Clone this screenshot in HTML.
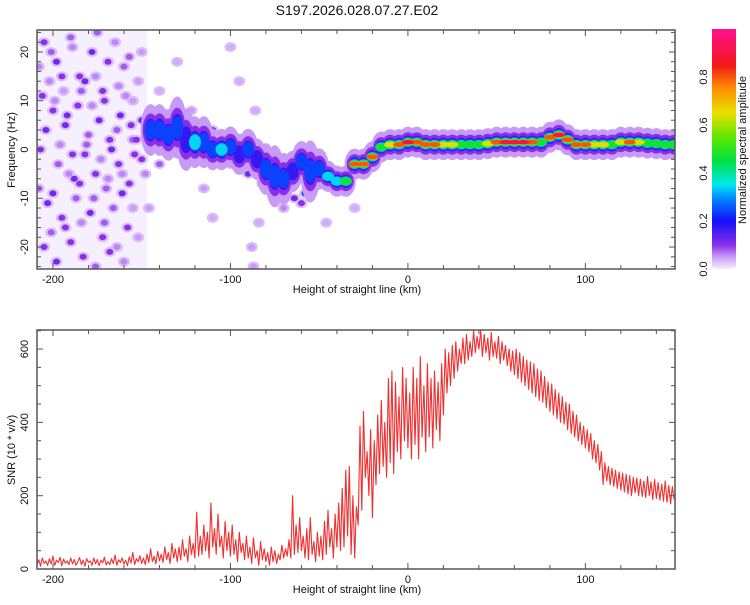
<!DOCTYPE html>
<html><head><meta charset="utf-8">
<style>
html,body{margin:0;padding:0;background:#fff;}
svg text{font-family:"Liberation Sans",sans-serif;fill:#111;}
</style></head>
<body>
<svg id="chart" width="750" height="600" viewBox="0 0 750 600" xmlns="http://www.w3.org/2000/svg">
<defs>
<linearGradient id="cbgrad" x1="0" y1="1" x2="0" y2="0">
<stop offset="0" stop-color="#f6eefe"/><stop offset="0.05" stop-color="#c89cf6"/><stop offset="0.1" stop-color="#8a2ee8"/>
<stop offset="0.2" stop-color="#1010f8"/><stop offset="0.3" stop-color="#0090ff"/><stop offset="0.35" stop-color="#00e8f0"/>
<stop offset="0.45" stop-color="#00e040"/><stop offset="0.55" stop-color="#60e800"/><stop offset="0.65" stop-color="#e8e000"/>
<stop offset="0.75" stop-color="#ff9000"/><stop offset="0.85" stop-color="#f01818"/><stop offset="1" stop-color="#ff1090"/>
</linearGradient>
<clipPath id="clipTop"><rect x="37" y="30" width="638" height="239"/></clipPath>
<clipPath id="clipBot"><rect x="37" y="330" width="638" height="239"/></clipPath>
</defs>
<text x="357" y="15" font-size="14" text-anchor="middle">S197.2026.028.07.27.E02</text>
<g id="heat" clip-path="url(#clipTop)"></g>
<g id="snr" clip-path="url(#clipBot)"></g>
<g id="axes"></g>
<rect x="712" y="29" width="24" height="240" fill="url(#cbgrad)"/>
<g id="cbticks"></g>
<text transform="translate(746,150) rotate(-90)" font-size="11" text-anchor="middle">Normalized spectral amplitude</text>
</svg>
<script>
const snrStart = -209;
const snrValues = [
12,25,8,30,15,22,10,28,14,35,
10,24,18,32,9,27,16,22,12,30,
14,26,10,20,31,12,24,8,28,18,
22,10,30,14,26,9,24,17,32,11,
20,12,28,15,38,10,25,18,30,13,
24,9,33,16,45,12,28,20,36,15,
30,12,40,18,55,20,35,14,48,22,
40,18,60,25,45,15,70,30,55,20,
60,25,80,35,55,20,90,40,70,30,
155,35,90,40,120,50,100,30,180,60,
110,40,150,60,90,30,130,50,100,35,
120,40,80,20,100,45,70,25,90,30,
60,15,85,30,50,10,75,25,55,20,
45,10,60,20,50,15,40,25,65,30,
55,35,80,30,200,40,120,45,140,50,
90,30,110,25,140,40,75,20,100,35,
90,25,130,40,160,60,110,30,150,60,
180,50,220,60,270,90,280,40,200,30,
170,120,390,160,430,250,320,200,380,140,
350,230,420,260,460,280,400,250,520,290,
540,260,510,320,470,300,550,350,520,330,
480,300,550,340,520,300,580,360,500,320,
560,360,520,330,540,380,510,350,560,420,
600,480,590,500,610,520,620,540,600,560,
630,560,640,570,620,580,650,590,635,600,
650,580,640,590,630,570,645,580,620,575,
635,560,620,570,610,555,600,540,595,530,
600,520,590,510,580,500,570,490,565,480,
560,470,545,460,540,455,525,440,510,430,
505,420,490,410,480,400,470,395,455,380,
450,370,430,360,420,350,400,340,390,330,
380,320,370,300,350,290,340,270,320,230,
290,240,280,230,275,225,270,220,265,215,
262,210,258,205,255,200,250,208,248,200,
245,198,240,195,252,200,238,190,244,192,
236,188,232,185,240,182,228,178,225,190
];
const ridgeX = [-145,-140,-135,-130,-125,-120,-115,-110,-105,-100,-95,-90,-85,-80,-75,-70,-65,-60,-55,-50,-45,-40,-35,-30,-25,-20,-15,-10,-5,0,5,10,15,20,25,30,35,40,45,50,55,60,65,70,75,80,85,90,95,100,105,110,115,120,125,130,135,140,145,150];
const ridgeF = [4,4,3,4.5,2,1.5,1.5,0,0,0.5,-1,0,-2,-4,-5.5,-6,-4.5,-2.5,-4.5,-4,-5.5,-6.5,-6.5,-3,-3,-1.5,0.5,1,1,1.5,1.5,1,1,1,1,1,1,1,1.2,1.5,1.5,1.5,1.5,1.5,1.5,2.5,3,2,1,1,1,1,1,1.5,1.5,1.5,1.3,1.2,1,1];
const ridgeA = [0.28,0.22,0.3,0.3,0.2,0.32,0.3,0.3,0.35,0.3,0.2,0.25,0.15,0.25,0.25,0.3,0.2,0.3,0.25,0.25,0.35,0.4,0.5,0.8,0.85,0.8,0.6,0.7,0.8,0.9,0.85,0.85,0.8,0.75,0.7,0.6,0.55,0.6,0.75,0.85,0.9,0.92,0.9,0.8,0.6,0.85,0.9,0.85,0.8,0.85,0.75,0.7,0.6,0.7,0.8,0.75,0.6,0.55,0.55,0.5];
const ridgeW = [5,5,5,6,6,5,5,4,4,4,4,4,4,5,6,5,4,4,6,4,3,3,3,3,3,3,3,3,3,3,3,3,3,3,3,3,3,3,3,3,3,3,3,3,3,3,3,3,3,3,3,3,3,3,3,3,3,3,3,3];
const noiseX = [-205,-198,-190,-185,-178,-172,-165,-160,-155,-200,-193,-186,-180,-174,-168,-162,-156,-150,-207,-197,-188,-182,-176,-170,-163,-157,-203,-195,-187,-179,-172,-166,-158,-205,-198,-190,-183,-176,-168,-160,-152,-202,-194,-176,-150,-148,-146,-140,-130,-122,-115,-110,-100,-95,-88,-87,-86,-84,-70,-64,-60,-58,-75,-72,-46,-30,-150,-155,-140,-135,-125,-118,-110,-100,-95,-90,-82,-78,
-208,-201,-195,-189,-182,-175,-169,-163,-157,-152,-206,-199,-192,-184,-178,-171,-164,-159,-153,-204,-196,-189,-181,-173,-167,-161,-154,-208,-200,-191,-185,-177,-169,-161,-155,-201,-193,-184,-171,-164];
const noiseF = [22,18,23,15,20,12,22,17,10,8,5,9,3,6,2,7,5,6,0,-3,-6,-1,-5,-8,-3,-7,-11,-14,-10,-13,-18,-12,-16,-20,-23,-19,-22,-24,-21,-23,-18,14,12,15,20,-5,-12,12,18,8,-8,-14,21,14,-20,-24,8,-15,-12,-10,-11,-9,-9,-7,-15,-12,-2,2,-3,-1,4,-2,4,-3,2,-5,-7,-2,
17,20,15,21,14,24,18,13,19,14,11,10,7,12,9,10,4,11,2,4,1,-1,1,-2,0,-5,-1,-8,-9,-5,-7,-10,-6,-9,-12,-17,-16,-15,-15,-20];
const noiseA = [0.1,0.12,0.08,0.1,0.12,0.1,0.06,0.08,0.05,0.1,0.12,0.1,0.08,0.12,0.1,0.12,0.1,0.12,0.1,0.08,0.12,0.1,0.1,0.08,0.1,0.1,0.12,0.1,0.08,0.12,0.1,0.08,0.1,0.1,0.12,0.1,0.1,0.08,0.1,0.06,0.05,0.06,0.05,0.06,0.05,0.06,0.05,0.04,0.04,0.05,0.05,0.04,0.04,0.04,0.05,0.05,0.04,0.04,0.06,0.12,0.1,0.25,0.12,0.2,0.04,0.04,0.1,0.08,0.08,0.12,0.12,0.1,0.1,0.1,0.1,0.12,0.1,0.08,
0.06,0.08,0.1,0.06,0.12,0.08,0.1,0.06,0.08,0.05,0.1,0.06,0.12,0.08,0.06,0.1,0.08,0.06,0.1,0.12,0.06,0.1,0.08,0.06,0.12,0.06,0.1,0.08,0.12,0.06,0.1,0.08,0.06,0.12,0.05,0.08,0.1,0.06,0.08,0.06];
const xTicks = [-200,-100,0,100];
const fTicks = [-20,-10,0,10,20];
const snrTicks = [0,200,400,600];
const cbTicks = [0.0,0.2,0.4,0.6,0.8];

const NS='http://www.w3.org/2000/svg';
const X0=37,X1=675,KMIN=-209,KMAX=150.5;
const xs = k => X0+(k-KMIN)*(X1-X0)/(KMAX-KMIN);
const HZ = 239/49;
const yf = f => 149.5 - f*HZ;
const ys = v => 569 - v*(239/652);
const yc = a => 269 - a*240;
function mk(tag, attrs, parent){const e=document.createElementNS(NS,tag);for(const k in attrs)e.setAttribute(k,attrs[k]);parent.appendChild(e);return e;}
const stops=[[0,[246,238,254]],[0.05,[200,156,246]],[0.1,[138,46,232]],[0.2,[16,16,248]],[0.3,[0,144,255]],[0.35,[0,232,240]],[0.45,[0,224,64]],[0.55,[96,232,0]],[0.65,[232,224,0]],[0.75,[255,144,0]],[0.85,[240,24,24]],[1,[255,16,144]]];
function cmap(a){for(let i=1;i<stops.length;i++){if(a<=stops[i][0]){const t=(a-stops[i-1][0])/(stops[i][0]-stops[i-1][0]);const c=stops[i-1][1].map((v,j)=>Math.round(v+(stops[i][1][j]-v)*t));return 'rgb('+c.join(',')+')';}}return 'rgb(255,16,144)';}

// heatmap
const heat=document.getElementById('heat');
const bg=mk('rect',{x:xs(-209),y:30,width:xs(-147)-xs(-209),height:239,fill:'#f6effd'},heat);


for(let i=0;i<noiseX.length;i++){
  const e1=mk('ellipse',{cx:xs(noiseX[i]),cy:yf(noiseF[i]),rx:6,ry:5,fill:cmap(0.03)},heat);
  
  
}
for(let i=0;i<noiseX.length;i++){
  const e2=mk('ellipse',{cx:xs(noiseX[i]),cy:yf(noiseF[i]),rx:3.5,ry:3,fill:cmap(noiseA[i])},heat);
  
  
}
const levels=[0.03,0.08,0.15,0.22,0.32,0.45,0.62,0.78,0.88];
const ryFactor=[1.25,0.8,0.55,0.45,0.38,0.32,0.24,0.2,0.15];
levels.forEach((t,li)=>{
  for(let i=0;i<ridgeX.length;i++){
    const a=ridgeA[i]; if(a<t) continue;
    const ry = Math.max(ridgeW[i]*ryFactor[li]*HZ*0.85, 2.2);
    const rx = li===0 ? 10 : (li===1 ? 8 : 6);
    const el=mk('ellipse',{cx:xs(ridgeX[i]),cy:yf(ridgeF[i]),rx:rx,ry:ry,fill:cmap(t+0.02)},heat);
    
    
  }
});

// SNR line
const snr=document.getElementById('snr');
let d='';
snrValues.forEach((v,i)=>{d+=(i?'L':'M')+xs(snrStart+i).toFixed(1)+' '+ys(v).toFixed(1);});
const line=mk('path',{d:d,fill:'none',stroke:'#f03030','stroke-width':1.1,'stroke-linejoin':'round'},snr);



// axes
const ax=document.getElementById('axes');
function frame(y0,y1,name){
  const r=mk('rect',{x:X0,y:y0,width:X1-X0,height:y1-y0,fill:'none',stroke:'#555','stroke-width':1.5},ax);
  
  
  for(let k=-200;k<=150;k+=20){
    const L=(k%100===0)?6:4;
    mk('line',{x1:xs(k),x2:xs(k),y1:y1,y2:y1-L,stroke:'#555'},ax);
    mk('line',{x1:xs(k),x2:xs(k),y1:y0,y2:y0+L,stroke:'#555'},ax);
  }
  xTicks.forEach(k=>{
    const t=mk('text',{x:xs(k),y:y1+14,'font-size':11,'text-anchor':'middle'},ax);t.textContent=k;
    
    
  });
  const tt=mk('text',{x:357,y:y1+24,'font-size':11,'text-anchor':'middle'},ax);tt.textContent='Height of straight line (km)';
  
  
}
frame(30,269,'top-plot-frame');
frame(330,569,'bottom-plot-frame');
for(let f=-24;f<=24;f+=2){
  const L=(f%10===0)?6:4;
  mk('line',{x1:X0,x2:X0+L,y1:yf(f),y2:yf(f),stroke:'#555'},ax);
  mk('line',{x1:X1,x2:X1-L,y1:yf(f),y2:yf(f),stroke:'#555'},ax);
}
fTicks.forEach(f=>{
  const t=mk('text',{transform:'translate(28,'+yf(f)+') rotate(-90)','font-size':11,'text-anchor':'middle'},ax);t.textContent=f;
  
  
});
const yt=mk('text',{transform:'translate(15,150) rotate(-90)','font-size':11,'text-anchor':'middle'},ax);yt.textContent='Frequency (Hz)';


for(let v=0;v<=650;v+=50){
  const L=(v%200===0)?6:4;
  mk('line',{x1:X0,x2:X0+L,y1:ys(v),y2:ys(v),stroke:'#555'},ax);
  mk('line',{x1:X1,x2:X1-L,y1:ys(v),y2:ys(v),stroke:'#555'},ax);
}
snrTicks.forEach(v=>{
  const t=mk('text',{transform:'translate(28,'+ys(v)+') rotate(-90)','font-size':11,'text-anchor':'middle'},ax);t.textContent=v;
  
  
});
const st=mk('text',{transform:'translate(15,450) rotate(-90)','font-size':11,'text-anchor':'middle'},ax);st.textContent='SNR (10 * v/v)';



// colorbar ticks
const cb=document.getElementById('cbticks');
cbTicks.forEach(a=>{
  const t=mk('text',{transform:'translate(707,'+yc(a)+') rotate(-90)','font-size':11,'text-anchor':'middle'},cb);t.textContent=a.toFixed(1);
  
  
});
mk('line',{x1:712,x2:716,y1:268,y2:268,stroke:'#fff'},cb);
mk('line',{x1:732,x2:736,y1:268,y2:268,stroke:'#fff'},cb);
</script>
</body></html>
